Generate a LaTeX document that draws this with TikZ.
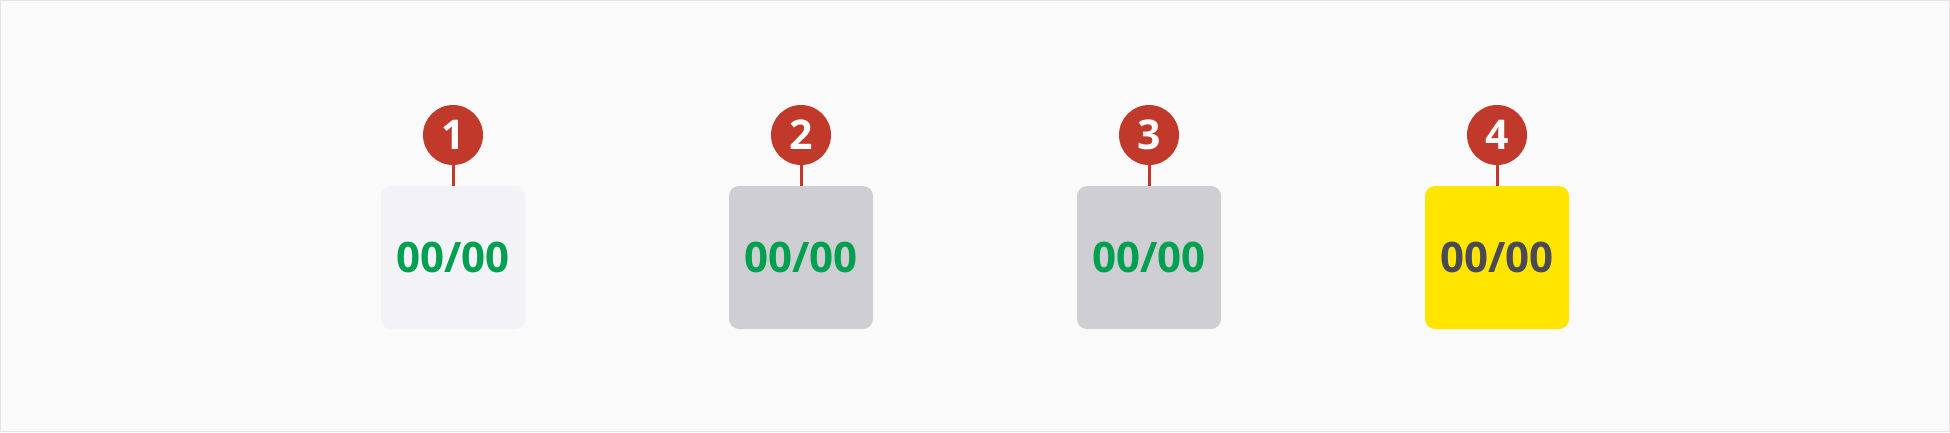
\documentclass[tikz,border=0pt]{standalone}
\usepackage{fontspec}
\setmainfont{Open Sans}
\usepackage{tikz}
\usetikzlibrary{positioning}
\usepackage{color}

\definecolor{pagebg}{HTML}{FAFAFA}
\definecolor{pageline}{HTML}{E4E4E4}
\definecolor{pinred}{HTML}{C0392B}
\definecolor{paleslot}{HTML}{F2F2F7}
\definecolor{greyslot}{HTML}{CFCFD3}
\definecolor{yellowslot}{HTML}{FFE500}
\definecolor{scoregreen}{HTML}{00A050}
\definecolor{scoredark}{HTML}{4A4A55}

\begin{document}
\begin{tikzpicture}[x=1pt, y=-1pt,
  slot/.style={rectangle, rounded corners=10pt, minimum width=144pt, minimum height=143pt, inner sep=0pt, font=\fontsize{42}{42}\selectfont\bfseries},
  pin/.style={circle, fill=pinred, minimum size=60pt, inner sep=0pt, text=white, font=\fontsize{41}{41}\selectfont\bfseries},
  stem/.style={draw=pinred, line width=3pt}]
  % Background of the whole picture
  \useasboundingbox (0,0) rectangle (1950,432);
  \draw[fill=pagebg, draw=pageline, line width=1pt] (0.5,0.5) rectangle (1949.5,431.5);

  % Draw the four slots with the score
  \node[slot, fill=paleslot, text=scoregreen] (slotone) at (453,257.5) {00/00};
  \node[slot, fill=greyslot, text=scoregreen] (slottwo) at (801,257.5) {00/00};
  \node[slot, fill=greyslot, text=scoregreen] (slotthree) at (1149,257.5) {00/00};
  \node[slot, fill=yellowslot, text=scoredark] (slotfour) at (1497,257.5) {00/00};

  % Draw the numbered pins above the slots
  \node[pin] (pinone) at (453,135) {1};
  \node[pin] (pintwo) at (801,135) {2};
  \node[pin] (pinthree) at (1149,135) {3};
  \node[pin] (pinfour) at (1497,135) {4};

  % Draw the stems from the pins down to the slots
  \draw[stem] (pinone) -- (slotone.north);
  \draw[stem] (pintwo) -- (slottwo.north);
  \draw[stem] (pinthree) -- (slotthree.north);
  \draw[stem] (pinfour) -- (slotfour.north);

\end{tikzpicture}
\end{document}
